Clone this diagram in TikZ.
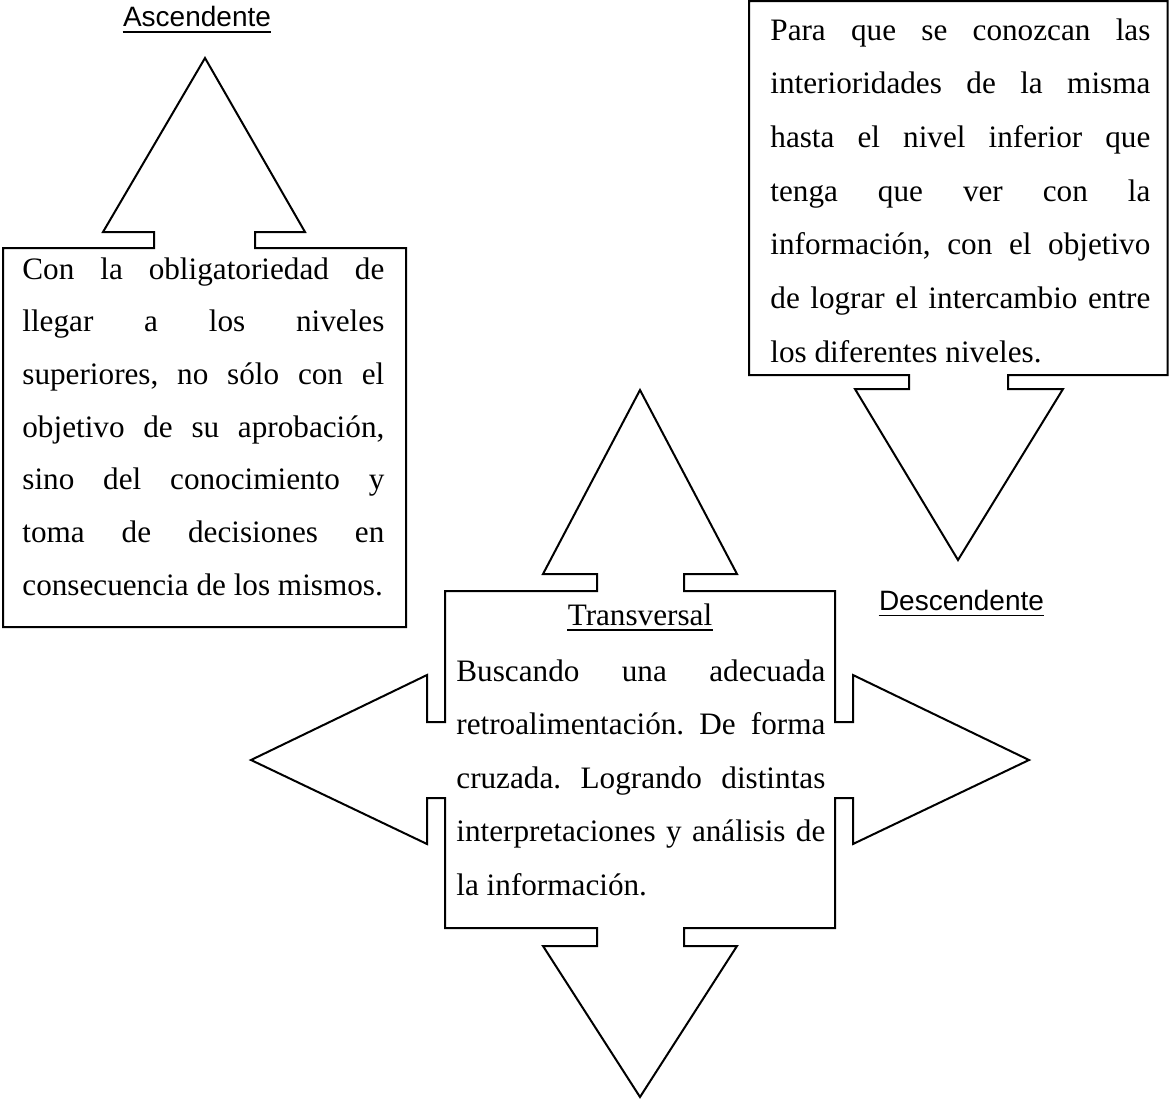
\documentclass[tikz,border=0pt]{standalone}
\usepackage{fontspec}
\setmainfont{Liberation Serif}
\newfontfamily\arialf{Liberation Sans}
\frenchspacing
\begin{document}
\begin{tikzpicture}[x=0.5pt,y=-0.5pt,
  callout/.style={draw=black, line width=1pt, line join=miter},
  txt/.style={inner sep=0pt, anchor=base west, font=\fontsize{15.6}{18}\selectfont},
  ttl/.style={inner sep=0pt, anchor=base, font=\arialf\fontsize{14}{16}\selectfont},
  ttlserif/.style={inner sep=0pt, anchor=base, font=\fontsize{15.6}{18}\selectfont},
  uline/.style={line width=0.9pt}]
\useasboundingbox (0,0) rectangle (1169,1099);

% Ascendente callout (left)
\draw[callout] (3,248) -- (154,248) -- (154,232) -- (103,232) -- (205,58) -- (305,232)
  -- (255,232) -- (255,248) -- (406,248) -- (406,627) -- (3,627) -- cycle;

% Descendente callout (top right)
\draw[callout] (749,1) -- (1167.5,1) -- (1167.5,375) -- (1008,375) -- (1008,389) -- (1063,389)
  -- (958,560) -- (855,389) -- (909,389) -- (909,375) -- (749,375) -- cycle;

% Transversal callout (centre, four arrows)
\draw[callout] (445,591) -- (597,591) -- (597,574) -- (543,574) -- (640,390) -- (737,574)
  -- (684,574) -- (684,591) -- (835,591) -- (835,722) -- (853,722) -- (853,675)
  -- (1029,760) -- (853,844) -- (853,798) -- (835,798) -- (835,928) -- (684,928)
  -- (684,946) -- (737,946) -- (640,1097) -- (543,946) -- (597,946) -- (597,928)
  -- (445,928) -- (445,798) -- (427,798) -- (427,844) -- (251,760) -- (427,675)
  -- (427,722) -- (445,722) -- cycle;

% Titles
\node[ttl] (asc) at (197,26.5) {Ascendente};
\draw[uline] ([yshift=-2.75pt]asc.base west) -- ([yshift=-2.75pt]asc.base east);
\node[ttl] (desc) at (961.5,610.5) {Descendente};
\draw[uline] ([yshift=-2.5pt]desc.base west) -- ([yshift=-2.5pt]desc.base east);
\node[ttlserif] (trans) at (640,625) {Transversal};
\draw[uline] ([yshift=-2.4pt]trans.base west) -- ([yshift=-2.4pt]trans.base east);

% Box 1 text
\foreach \t [count=\i] in {{Con la obligatoriedad de},{llegar a los niveles},{superiores, no sólo con el},{objetivo de su aprobación,},{sino del conocimiento y},{toma de decisiones en}}
  \node[txt] (a\i) at (22,{279+(\i-1)*52.7}) {\makebox[181pt][s]{\t}};
\node[txt] (a7) at (22,595) {consecuencia de los mismos.};

% Box 2 text
\foreach \t [count=\i] in {{Para que se conozcan las},{interioridades de la misma},{hasta el nivel inferior que},{tenga que ver con la},{información, con el objetivo},{de lograr el intercambio entre}}
  \node[txt] (b\i) at (770,{40+(\i-1)*53.7}) {\makebox[190pt][s]{\t}};
\node[txt] (b7) at (770,362) {los diferentes niveles.};

% Centre text
\foreach \t [count=\i] in {{Buscando una adecuada},{retroalimentación. De forma},{cruzada. Logrando distintas},{interpretaciones y análisis de}}
  \node[txt] (c\i) at (456,{681+(\i-1)*53.5}) {\makebox[184.5pt][s]{\t}};
\node[txt] (c5) at (456,895) {la información.};
\end{tikzpicture}
\end{document}
